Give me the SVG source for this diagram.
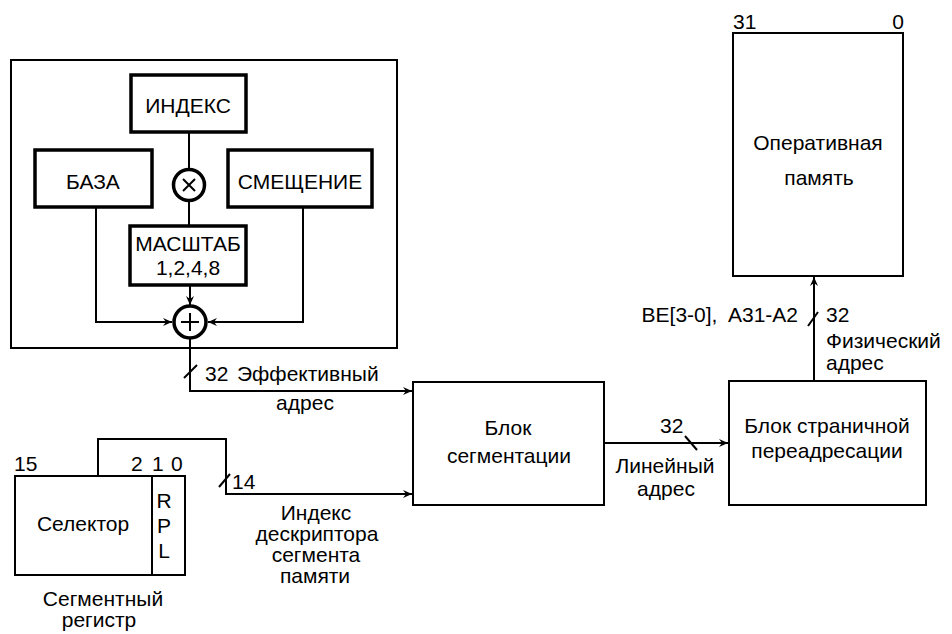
<svg xmlns="http://www.w3.org/2000/svg" width="952" height="634" viewBox="0 0 952 634">
<defs>
<style>
text{font-family:"Liberation Sans","DejaVu Sans",Arial,sans-serif;font-size:21px;fill:#000}
.m{text-anchor:middle}
.thin{fill:none;stroke:#000;stroke-width:2}
.thick{fill:#fff;stroke:#000;stroke-width:3.5}
.box{fill:#fff;stroke:#000;stroke-width:2}
.w{fill:none;stroke:#000;stroke-width:2}
</style>
<marker id="arr" markerWidth="10" markerHeight="10" refX="9" refY="5" orient="auto" markerUnits="userSpaceOnUse">
<path d="M0,1 L9,5 L0,9 L3,5 Z" fill="#000"/>
</marker>
</defs>
<rect x="0" y="0" width="952" height="634" fill="#fff"/>

<g id="frame"><rect x="11" y="60" width="386" height="288" class="box"/></g>

<g id="connectors">
<line x1="189" y1="133" x2="189" y2="169" class="w"/>
<line x1="189" y1="201" x2="189" y2="225" class="w"/>
<polyline points="96,208 96,322 172,322" class="w" marker-end="url(#arr)"/>
<polyline points="303,208 303,322 208,322" class="w" marker-end="url(#arr)"/>
<line x1="190" y1="286" x2="190" y2="305" class="w" marker-end="url(#arr)"/>
<polyline points="190,339 190,391 412,391" class="w" marker-end="url(#arr)"/>
<line x1="184" y1="378" x2="197" y2="365" class="w"/>
<polyline points="98,476 98,439 226,439 226,494 412,494" class="w" marker-end="url(#arr)"/>
<line x1="219" y1="487" x2="230" y2="474" class="w"/>
<line x1="604" y1="443" x2="728" y2="443" class="w" marker-end="url(#arr)"/>
<line x1="685" y1="436" x2="697" y2="450" class="w"/>
<line x1="814" y1="381" x2="814" y2="277" class="w" marker-end="url(#arr)"/>
<line x1="808" y1="326" x2="818" y2="312" class="w"/>
</g>

<g id="index"><rect x="131" y="75" width="115" height="57" class="thick"/><text x="188" y="113" class="m">ИНДЕКС</text></g>
<g id="base"><rect x="35" y="150" width="117" height="57" class="thick"/><text x="93" y="189" class="m">БАЗА</text></g>
<g id="offset"><rect x="228" y="150" width="144" height="57" class="thick"/><text x="300" y="189" class="m">СМЕЩЕНИЕ</text></g>
<g id="mul"><circle cx="189" cy="185" r="15.5" class="thick"/><path d="M183,179 L195,191 M195,179 L183,191" class="w"/></g>
<g id="scale"><rect x="130" y="226" width="116" height="59" class="thick"/><text x="188" y="251" class="m">МАСШТАБ</text><text x="188" y="275" class="m">1,2,4,8</text></g>
<g id="add"><circle cx="190" cy="322" r="16" class="thick"/><path d="M181,322 L199,322 M190,313 L190,331" class="w"/></g>

<g id="eff-label"><text x="205" y="381">32</text><text x="237" y="381">Эффективный</text><text x="305" y="410" class="m">адрес</text></g>

<g id="segreg">
<rect x="15" y="476" width="170" height="99" class="box"/>
<line x1="152" y1="476" x2="152" y2="575" class="w"/>
<text x="14" y="471">15</text>
<text x="131" y="471">2</text><text x="152" y="471">1</text><text x="171" y="471">0</text>
<text x="83" y="531" class="m">Селектор</text>
<text x="164" y="508" class="m">R</text><text x="164" y="533" class="m">P</text><text x="164" y="558" class="m">L</text>
<text x="103" y="606" class="m">Сегментный</text><text x="99" y="627" class="m">регистр</text>
</g>
<g id="idx-label"><text x="232" y="489">14</text>
<text x="316" y="520" class="m">Индекс</text><text x="317" y="541" class="m">дескриптора</text><text x="316" y="562" class="m">сегмента</text><text x="315" y="583" class="m">памяти</text></g>

<g id="seg"><rect x="413" y="382" width="191" height="123" class="box"/><text x="508" y="435" class="m">Блок</text><text x="509" y="463" class="m">сегментации</text></g>
<g id="lin-label"><text x="660" y="433">32</text><text x="665" y="473" class="m">Линейный</text><text x="666" y="496" class="m">адрес</text></g>
<g id="page"><rect x="729" y="381" width="197" height="124" class="box"/><text x="827" y="433" class="m">Блок страничной</text><text x="827" y="458" class="m">переадресации</text></g>
<g id="phys-label"><text x="798" y="322" text-anchor="end" xml:space="preserve">BE[3-0],  A31-A2</text><text x="826" y="322">32</text><text x="826" y="348">Физический</text><text x="826" y="370">адрес</text></g>
<g id="mem"><rect x="733" y="33" width="170" height="243" class="box"/><text x="733" y="29">31</text><text x="904" y="29" text-anchor="end">0</text><text x="818" y="150" class="m">Оперативная</text><text x="819" y="185" class="m">память</text></g>
</svg>
